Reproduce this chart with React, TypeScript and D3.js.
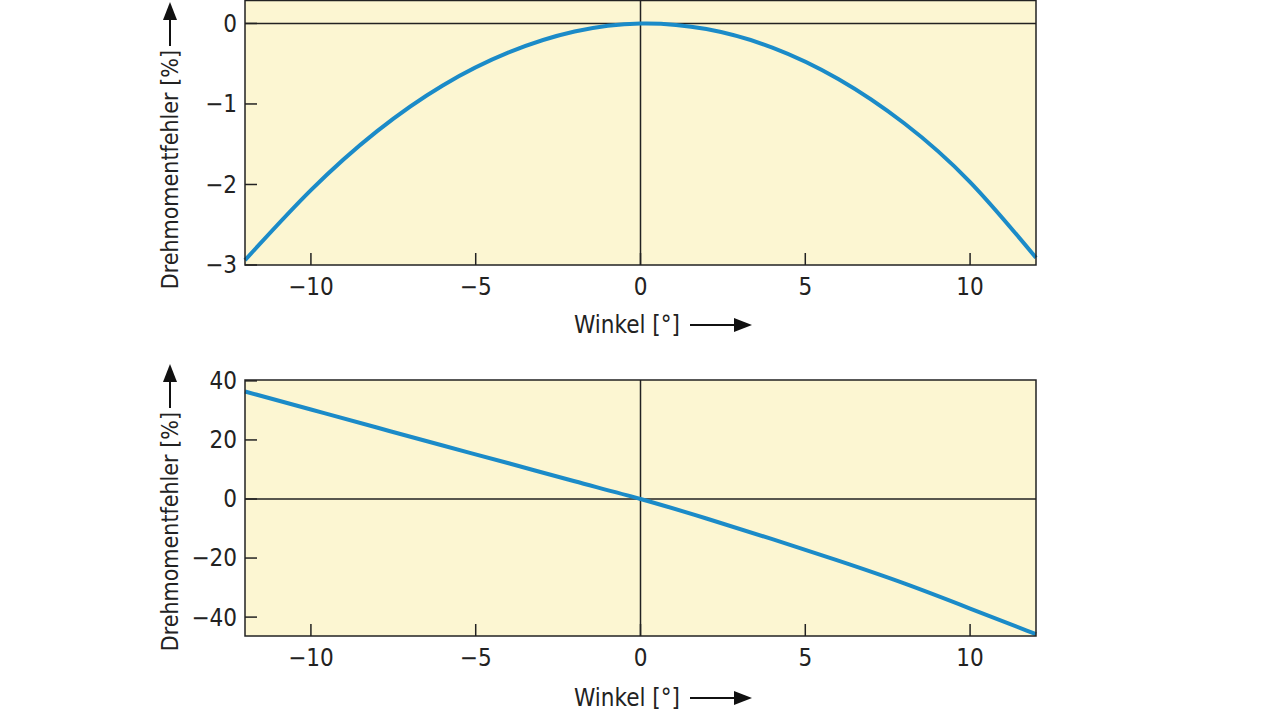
import React from "react";
import * as d3 from "d3";

const angles = [-12, -10, -8, -6, -4, -2, 0, 2, 4, 6, 8, 10, 12];
const errTop = [-2.94, -2.07, -1.34, -0.77, -0.36, -0.1, 0, -0.07, -0.3, -0.69, -1.24, -1.97, -2.91];
const errBottom = [36.4, 30.3, 24.2, 18.1, 12.1, 6.0, 0, -6.6, -13.6, -20.9, -28.6, -37.1, -45.8];
const xTicks = [-10, -5, 0, 5, 10];
const topTicks = [0, -1, -2, -3];
const bottomTicks = [40, 20, 0, -20, -40];
const yTitle = "Drehmomentfehler [%]";
const xTitle = "Winkel [°]";

const FONT = "'Liberation Sans Narrow', 'DejaVu Sans Condensed', 'Roboto Condensed', sans-serif";
const BG = "#fcf6d2";
const LINE = "#1b8bc8";

function Panel({ top, bottom, yDomain, yTicks, values, titleY, arrowBase }: any) {
  const left = 245, right = 1036;
  const x = d3.scaleLinear().domain([-12, 12]).range([left, right]);
  const y = d3.scaleLinear().domain(yDomain).range([bottom, top]);
  const line = d3.line<number>().x((_, i) => x(angles[i])).y((d) => y(d)).curve(d3.curveNatural);
  const tickFmt = (v: number) => (v < 0 ? "\u2212" + Math.abs(v) : String(v));
  return (
    <g>
      <rect x={left} y={top} width={right - left} height={bottom - top} fill={BG} />
      <line x1={left} x2={right} y1={y(0)} y2={y(0)} stroke="#222" strokeWidth={1.5} />
      <line x1={x(0)} x2={x(0)} y1={top} y2={bottom} stroke="#222" strokeWidth={1.5} />
      {yTicks.map((t: number) => (
        <g key={"y" + t}>
          <line x1={left} x2={left + 12} y1={y(t)} y2={y(t)} stroke="#222" strokeWidth={1.5} />
          <text x={left - 8} y={y(t)} dy="0.35em" textAnchor="end" fontSize={24} fontFamily={FONT} fill="#222">
            {tickFmt(t)}
          </text>
        </g>
      ))}
      {xTicks.map((t) => (
        <g key={"x" + t}>
          <line x1={x(t)} x2={x(t)} y1={bottom} y2={bottom - 12} stroke="#222" strokeWidth={1.5} />
          <text x={x(t)} y={bottom + 30} textAnchor="middle" fontSize={24} fontFamily={FONT} fill="#222">
            {tickFmt(t)}
          </text>
        </g>
      ))}
      <path d={line(values) || ""} fill="none" stroke={LINE} strokeWidth={4} />
      <rect x={left} y={top} width={right - left} height={bottom - top} fill="none" stroke="#222" strokeWidth={1.5} />
      {/* x title */}
      <text x={574} y={titleY} fontSize={24} fontFamily={FONT} fill="#222">{xTitle}</text>
      <line x1={690} x2={738} y1={titleY - 8} y2={titleY - 8} stroke="#111" strokeWidth={2} />
      <path d={`M752,${titleY - 8} L734,${titleY - 15} L734,${titleY - 1} Z`} fill="#111" />
      {/* y title */}
      <text transform={`translate(178,${arrowBase + 4}) rotate(-90)`} textAnchor="end" fontSize={23} fontFamily={FONT} fill="#222">{yTitle}</text>
      <line x1={170} x2={170} y1={arrowBase} y2={arrowBase - 30} stroke="#111" strokeWidth={2} />
      <path d={`M170,${arrowBase - 44} L163,${arrowBase - 26} L177,${arrowBase - 26} Z`} fill="#111" />
    </g>
  );
}

export default function App() {
  return (
    <svg width={1280} height={719} style={{ position: "absolute", left: 0, top: 0, background: "#fff" }}>
      <Panel top={0.5} bottom={265} yDomain={[-3, 0.285]} yTicks={topTicks} values={errTop} titleY={333} arrowBase={46} />
      <Panel top={380} bottom={636} yDomain={[-46.4, 40.3]} yTicks={bottomTicks} values={errBottom} titleY={706} arrowBase={408} />
    </svg>
  );
}
